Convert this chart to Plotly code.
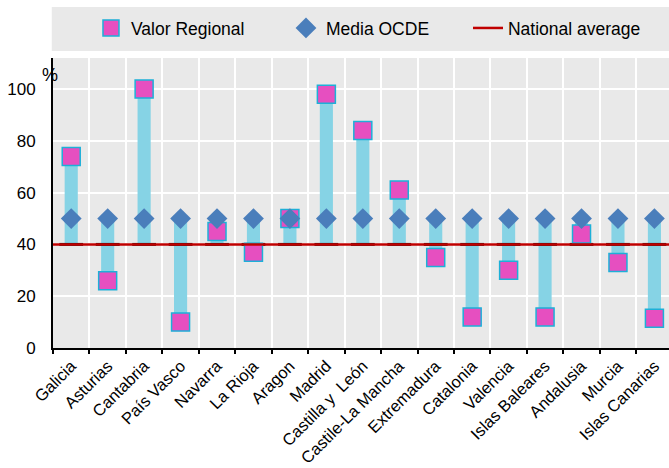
import plotly.graph_objects as go

regions = ["Galicia", "Asturias", "Cantabria", "País Vasco", "Navarra", "La Rioja",
           "Aragon", "Madrid", "Castilla y  León", "Castile-La Mancha", "Extremadura",
           "Catalonia", "Valencia", "Islas Baleares", "Andalusia", "Murcia", "Islas Canarias"]
regional = [74, 26, 100, 10, 45, 37, 50, 98, 84, 61, 35, 12, 30, 12, 44, 33, 11.5]
oecd = [50] * 17
national = 40
yticks = [0, 20, 40, 60, 80, 100]

lows = [min(r, o, national) for r, o in zip(regional, oecd)]
highs = [max(r, o, national) for r, o in zip(regional, oecd)]
spans = [h - l for h, l in zip(highs, lows)]

FONT = "Liberation Sans, Arial, sans-serif"

fig = go.Figure()
fig.add_trace(go.Bar(x=regions, y=spans, base=lows, width=0.36,
                     marker=dict(color="#86D3E5", line=dict(width=0)),
                     showlegend=False, hoverinfo="skip"))
fig.add_trace(go.Scatter(x=regions, y=[national] * len(regions), mode="markers",
                         marker=dict(symbol="line-ew", size=17, line=dict(color="#1a1a1a", width=3)),
                         showlegend=False, hoverinfo="skip"))
fig.add_trace(go.Scatter(x=regions, y=regional, mode="markers", name="Valor Regional",
                         marker=dict(symbol="square", size=18, color="#E64FC0",
                                     line=dict(color="#1DB0D8", width=1.5)),
                         legendrank=1, legendwidth=150))
fig.add_trace(go.Scatter(x=regions, y=oecd, mode="markers", name="Media OCDE",
                         marker=dict(symbol="diamond", size=16, color="#4A7EBB",
                                     line=dict(width=0)),
                         legendrank=2, legendwidth=137))

fig.add_shape(type="line", xref="paper", x0=0, x1=1, yref="y", y0=national, y1=national,
              line=dict(color="#C00000", width=2.5), layer="above",
              showlegend=True, name="National average", legendrank=3, legendwidth=140)
# legend background band
fig.add_shape(type="rect", xref="paper", yref="paper", x0=-0.002, x1=1.0,
              y0=1.024, y1=1.176, fillcolor="#E9E9E9", line=dict(width=0), layer="below")

fig.add_annotation(text="%", xref="paper", yref="paper", x=0.012, y=0.983,
                   xanchor="right", yanchor="top", showarrow=False,
                   font=dict(family=FONT, size=18, color="black"))

fig.update_layout(
    width=669, height=468,
    margin=dict(l=53, r=0, t=58, b=120),
    paper_bgcolor="white", plot_bgcolor="#E9E9E9",
    font=dict(family=FONT, size=17, color="black"),
    barmode="overlay",
    legend=dict(orientation="h", xref="container", yref="container",
                x=0.136, y=0.94, xanchor="left", yanchor="middle",
                bgcolor="rgba(0,0,0,0)", font=dict(family=FONT, size=17.5),
                traceorder="normal"),
    xaxis=dict(type="category", tickson="boundaries", ticks="outside", ticklen=4,
               tickwidth=2, tickcolor="black", showline=True, linecolor="black",
               linewidth=2, showgrid=True, gridcolor="white", gridwidth=2,
               tickangle=-45, range=[-0.5, 16.4], tickfont=dict(size=16.5),
               automargin=False),
    yaxis=dict(range=[0, 112], tickvals=yticks, showline=True, linecolor="black",
               linewidth=2, showgrid=True, gridcolor="white", gridwidth=2,
               ticks="", ticklabelstandoff=12, zeroline=False, tickfont=dict(size=17),
               automargin=False),
)

fig.write_html("out.html", config={"displayModeBar": False},
               post_script="document.body.style.margin='0px';")
